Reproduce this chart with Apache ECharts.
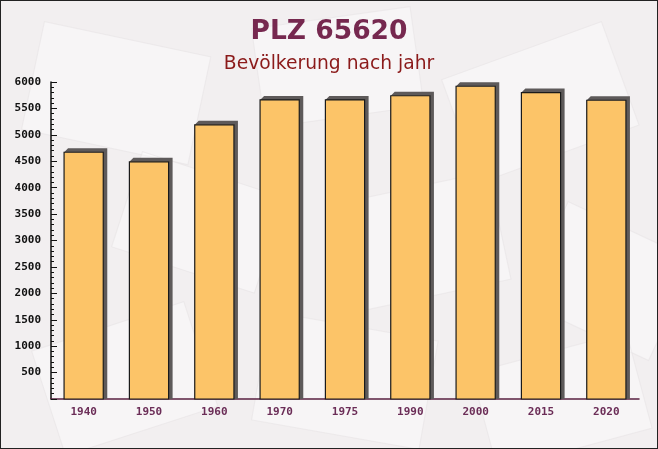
<!DOCTYPE html>
<html><head><meta charset="utf-8">
<script src="https://cdn.jsdelivr.net/npm/echarts@6/dist/echarts.min.js"></script>
<style>html,body{margin:0;padding:0;background:#f2eff0}#c{width:656px;height:447px;border:1px solid #222}</style>
</head><body><div id="c"></div>
<script>
const categories = ['1940','1950','1960','1970','1975','1990','2000','2015','2020'];
const population = [4670, 4490, 5190, 5660, 5660, 5740, 5920, 5800, 5655];
const yTicks = [0, 6000, 500];

const decor = [
  [20, 20, 170, 110, -12], [250, 5, 160, 100, 8], [440, 20, 170, 110, 20],
  [110, 150, 150, 100, -18], [330, 170, 160, 110, 12], [520, 200, 140, 110, -25],
  [30, 300, 160, 110, 18], [250, 310, 170, 110, -10], [470, 330, 160, 100, 15]
].map(d => ({
  type: 'rect', left: d[0], top: d[1], z: -10, silent: true, rotation: d[4] * Math.PI / 180,
  shape: {width: d[2], height: d[3]},
  style: {fill: 'rgba(255,255,255,0.38)', stroke: 'rgba(230,225,227,0.5)', lineWidth: 1}
}));

const chart = echarts.init(document.getElementById('c'));
chart.setOption({
  backgroundColor: '#f2eff0',
  animation: false,
  graphic: decor,
  title: [
    {text: 'PLZ 65620', left: 'center', top: 13,
     textStyle: {fontFamily: 'DejaVu Sans', fontSize: 26.5, fontWeight: 'bold', color: '#76284f'}},
    {text: 'Bevölkerung nach jahr', left: 'center', top: 49,
     textStyle: {fontFamily: 'DejaVu Sans', fontSize: 18.7, fontWeight: 'normal', color: '#8b1a1a'}}
  ],
  grid: {left: 50, right: 18, top: 81, bottom: 49},
  xAxis: {
    type: 'category', data: categories,
    axisLine: {lineStyle: {color: '#5a2040', width: 1.5}},
    axisTick: {inside: true, length: 5, lineStyle: {color: '#5a2040'}},
    axisLabel: {fontFamily: 'DejaVu Sans Mono', fontWeight: 'bold', fontSize: 11, color: '#6b2d57', margin: 8}
  },
  yAxis: {
    type: 'value', min: yTicks[0], max: yTicks[1], interval: yTicks[2],
    splitLine: {show: false},
    axisLine: {show: true, lineStyle: {color: '#111', width: 1.5}},
    axisTick: {show: true, inside: true, length: 6, lineStyle: {color: '#111'}},
    minorTick: {show: true, splitNumber: 5, length: 3, lineStyle: {color: '#111'}},
    axisLabel: {fontFamily: 'DejaVu Sans Mono', fontWeight: 'bold', fontSize: 11, color: '#111', margin: 10,
      formatter: v => v === 0 ? '' : String(v)}
  },
  series: [{
    type: 'custom',
    data: population.map((v, i) => [i, v]),
    encode: {x: 0, y: 1},
    renderItem: function (params, api) {
      const top = api.coord([api.value(0), api.value(1)]);
      const base = api.coord([api.value(0), 0]);
      const w = api.size([1, 0])[0] * 0.6;
      const x = top[0] - w / 2, y = top[1], h = base[1] - top[1];
      const d = 4;
      return {
        type: 'group',
        children: [
          {type: 'polygon', shape: {points: [[x, y], [x + d, y - d], [x + w + d, y - d], [x + w + d, base[1]], [x + w, base[1]], [x + w, y]]},
           style: {fill: '#5e5a5a'}},
          {type: 'rect', shape: {x: x, y: y, width: w, height: h},
           style: {fill: '#fcc468', stroke: '#1a1a1a', lineWidth: 1.2}}
        ]
      };
    }
  }]
});
</script></body></html>
